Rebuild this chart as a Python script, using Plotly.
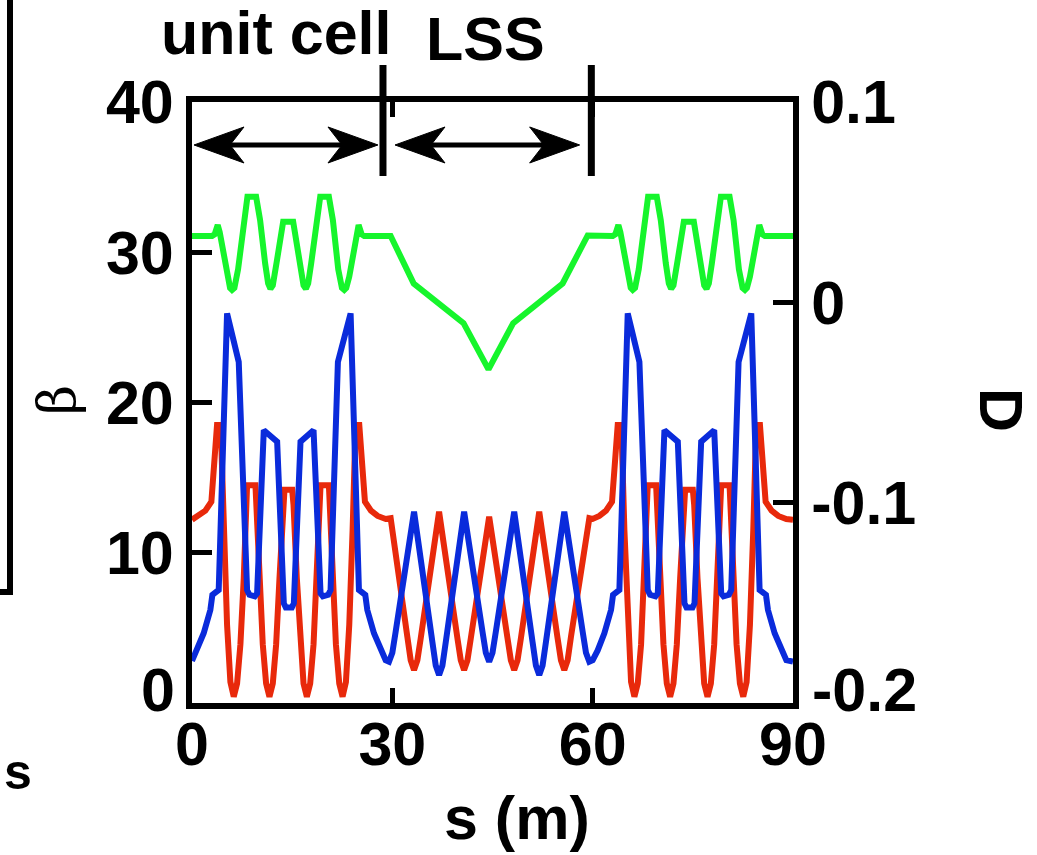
import plotly.graph_objects as go

# ---------------- data ----------------
# horizontal beta function (red)
s_bx = [0.0, 1.0, 2.0, 2.9, 3.75, 4.3, 4.75, 5.25, 5.75, 6.25, 6.75, 7.25, 7.75, 8.25,
        9.5, 10.1, 10.6, 11.1, 11.6, 12.1, 12.6, 13.1, 13.6, 13.85,
        15.0, 15.2, 15.7, 16.2, 16.7, 17.2, 17.7, 18.2, 18.7, 19.25,
        20.5, 21.05, 21.55, 22.05, 22.55, 23.05, 23.55, 24.05, 24.5, 25.05,
        25.9, 26.8, 27.8, 29.0, 29.75,
        32.25, 32.75, 33.25, 33.75, 34.25, 37.0,
        39.75, 40.25, 40.75, 41.25, 41.75, 44.5,
        47.25, 47.75, 48.25, 48.75, 49.25, 52.0,
        54.75, 55.25, 55.75, 56.25, 56.75, 59.5,
        60.0, 61.0, 62.0, 62.9, 63.75, 64.3, 64.75, 65.25, 65.75, 66.25, 66.75, 67.25, 67.75, 68.25,
        69.5, 70.1, 70.6, 71.1, 71.6, 72.1, 72.6, 73.1, 73.6, 73.85,
        75.0, 75.2, 75.7, 76.2, 76.7, 77.2, 77.7, 78.2, 78.7, 79.25,
        80.5, 81.05, 81.55, 82.05, 82.55, 83.05, 83.55, 84.05, 84.5, 85.05,
        85.9, 86.8, 87.8, 89.0, 90.0]
beta_x = [12.2, 12.45, 12.8, 13.4, 18.5, 18.5, 11.5, 5.2, 1.4, 0.42, 1.3, 3.9, 8.3, 14.5,
          14.5, 8.3, 3.9, 1.3, 0.42, 1.3, 3.9, 8.3, 13.2, 14.2,
          14.2, 13.2, 8.3, 3.9, 1.3, 0.42, 1.3, 3.9, 8.3, 14.5,
          14.5, 8.3, 3.9, 1.3, 0.42, 1.4, 5.2, 11.5, 18.5, 18.5,
          13.4, 12.8, 12.45, 12.25, 12.3,
          4.4, 2.85, 2.2, 2.85, 4.3, 12.73,
          4.3, 2.85, 2.2, 2.85, 4.3, 12.4,
          4.3, 2.85, 2.2, 2.85, 4.3, 12.73,
          4.3, 2.85, 2.2, 2.85, 4.4, 12.3,
          12.25, 12.45, 12.8, 13.4, 18.5, 18.5, 11.5, 5.2, 1.4, 0.42, 1.3, 3.9, 8.3, 14.5,
          14.5, 8.3, 3.9, 1.3, 0.42, 1.3, 3.9, 8.3, 13.2, 14.2,
          14.2, 13.2, 8.3, 3.9, 1.3, 0.42, 1.3, 3.9, 8.3, 14.5,
          14.5, 8.3, 3.9, 1.3, 0.42, 1.4, 5.2, 11.5, 18.5, 18.5,
          13.4, 12.8, 12.45, 12.25, 12.2]

# vertical beta function (blue)
s_by = [0.0, 0.75, 1.75, 2.75, 3.05, 4.0, 5.25, 7.0, 8.25, 8.6, 9.4, 9.75, 10.75, 12.75,
        13.75, 14.05, 14.95, 15.25, 16.25, 18.2, 19.25, 19.6, 20.4, 20.75, 21.85, 23.75,
        25.0, 25.95, 26.25, 27.25, 28.25, 29.0, 29.5,
        30.0, 30.5, 33.25, 36.0, 36.5, 37.0, 37.5, 38.0, 40.75,
        43.5, 44.0, 44.5, 45.0, 45.5, 48.25,
        51.0, 51.5, 52.0, 52.5, 53.0, 55.75,
        58.5, 59.0, 59.5,
        60.0, 60.75, 61.75, 62.75, 63.05, 64.0, 65.25, 67.0, 68.25, 68.6, 69.4, 69.75, 70.75, 72.75,
        73.75, 74.05, 74.95, 75.25, 76.25, 78.2, 79.25, 79.6, 80.4, 80.75, 81.85, 83.75,
        85.0, 85.95, 86.25, 87.25, 88.25, 89.0, 90.0]
beta_y = [2.8, 3.5, 4.64, 6.19, 7.2, 7.52, 25.93, 22.7, 7.52, 7.2, 7.1, 7.3, 18.16, 17.39,
          6.63, 6.35, 6.35, 6.63, 17.39, 18.16, 7.3, 7.1, 7.2, 7.52, 22.7, 25.93,
          7.52, 7.2, 6.19, 4.64, 3.5, 2.85, 2.75,
          3.35, 4.75, 12.73, 4.05, 2.5, 1.86, 2.5, 4.05, 12.73,
          4.75, 3.35, 2.75, 3.35, 4.75, 12.73,
          4.05, 2.5, 1.86, 2.5, 4.05, 12.73,
          4.75, 3.35, 2.75,
          2.85, 3.5, 4.64, 6.19, 7.2, 7.52, 25.93, 22.7, 7.52, 7.2, 7.1, 7.3, 18.16, 17.39,
          6.63, 6.35, 6.35, 6.63, 17.39, 18.16, 7.3, 7.1, 7.2, 7.52, 22.7, 25.93,
          7.52, 7.2, 6.19, 4.64, 3.5, 2.85, 2.75]

# dispersion (green, right axis)
s_d = [0.0, 3.0, 3.4, 3.85, 4.15, 4.6, 5.25, 5.7, 6.0, 6.35, 6.9, 7.75, 8.3,
       9.6, 10.2, 10.95, 11.4, 11.75, 12.1, 12.7, 13.65,
       15.15, 16.1, 16.7, 17.05, 17.4, 17.85, 18.6, 19.2,
       20.5, 21.1, 21.9, 22.45, 22.8, 23.1, 23.55, 24.2, 24.65, 24.95, 25.4, 25.8, 29.75,
       33.2, 40.66, 44.4, 48.1, 55.5, 59.25,
       63.0, 63.4, 63.85, 64.15, 64.6, 65.25, 65.7, 66.0, 66.35, 66.9, 67.75, 68.3,
       69.6, 70.2, 70.95, 71.4, 71.75, 72.1, 72.7, 73.65,
       75.15, 76.1, 76.7, 77.05, 77.4, 77.85, 78.6, 79.2,
       80.5, 81.1, 81.9, 82.45, 82.8, 83.1, 83.55, 84.2, 84.65, 84.95, 85.4, 85.8, 90.0]
disp = [0.0331, 0.0331, 0.034, 0.0386, 0.035, 0.0265, 0.0128, 0.0072, 0.0062, 0.0072, 0.0165, 0.041, 0.0527,
        0.0527, 0.041, 0.0195, 0.0095, 0.0068, 0.0085, 0.0205, 0.0402,
        0.0402, 0.0205, 0.0085, 0.0068, 0.0095, 0.0195, 0.041, 0.0527,
        0.0527, 0.041, 0.0165, 0.0072, 0.0062, 0.0072, 0.0128, 0.0265, 0.035, 0.0386, 0.034, 0.0331, 0.0331,
        0.0094, -0.0104, -0.0335, -0.0104, 0.0094, 0.0334,
        0.0331, 0.034, 0.0386, 0.035, 0.0265, 0.0128, 0.0072, 0.0062, 0.0072, 0.0165, 0.041, 0.0527,
        0.0527, 0.041, 0.0195, 0.0095, 0.0068, 0.0085, 0.0205, 0.0402,
        0.0402, 0.0205, 0.0085, 0.0068, 0.0095, 0.0195, 0.041, 0.0527,
        0.0527, 0.041, 0.0165, 0.0072, 0.0062, 0.0072, 0.0128, 0.0265, 0.035, 0.0386, 0.034, 0.0331, 0.0331]

x_ticks = [0, 30, 60, 90]
beta_ticks = [0, 10, 20, 30, 40]
beta_ticktext = ["", "10", "20", "30", "40"]
d_ticks = [-0.2, -0.1, 0, 0.1]
d_ticktext = ["", "-0.1", "0", "0.1"]

# section markers and arrows (s positions)
marker_s = [28.6, 59.8]
arrows_s = [(0.3, 27.85), (30.4, 58.05)]
arrow_beta = 37.14

# ---------------- figure ----------------
W, H = 1037, 855
ML, MR, MT, MB = 192, 244, 102, 152
PW, PH = W - ML - MR, H - MT - MB

def px_x(px):
    return (px - ML) / PW

def px_y(py):
    return (H - MB - py) / PH

FONT = "Liberation Sans, Arial, sans-serif"
FS = 61
GREEN = "#16F52C"
RED = "#E8290B"
BLUE = "#0A2BDB"
LW = 6

fig = go.Figure()
fig.add_trace(go.Scatter(x=s_d, y=disp, mode="lines", yaxis="y2",
                         line=dict(color=GREEN, width=LW), showlegend=False))
fig.add_trace(go.Scatter(x=s_bx, y=beta_x, mode="lines",
                         line=dict(color=RED, width=LW), showlegend=False))
fig.add_trace(go.Scatter(x=s_by, y=beta_y, mode="lines",
                         line=dict(color=BLUE, width=LW), showlegend=False))

tickfont = dict(family=FONT, size=FS, color="black", weight="bold")

fig.update_layout(
    width=W, height=H,
    margin=dict(l=ML, r=MR, t=MT, b=MB, pad=0),
    paper_bgcolor="white", plot_bgcolor="white",
    xaxis=dict(range=[0, 90], tickvals=x_ticks, ticks="inside", ticklen=15, tickwidth=5,
               tickcolor="black", showline=True, linewidth=6, linecolor="black",
               mirror="ticks", showgrid=False, zeroline=False, tickfont=tickfont,
               ticklabelstandoff=-17),
    yaxis=dict(range=[0, 40], tickvals=beta_ticks, ticktext=beta_ticktext, ticks="inside",
               ticklen=20, tickwidth=5,
               tickcolor="black", showline=True, linewidth=6, linecolor="black",
               showgrid=False, zeroline=False, tickfont=tickfont),
    yaxis2=dict(range=[-0.2, 0.1], tickvals=d_ticks, ticktext=d_ticktext, overlaying="y",
                side="right", ticks="inside", ticklen=20, tickwidth=5, tickcolor="black",
                showline=True, linewidth=6, linecolor="black", showgrid=False,
                zeroline=False, tickfont=tickfont),
)

shapes = []
# section marker lines above the frame
for ms in marker_s:
    shapes.append(dict(type="line", xref="x", yref="paper", x0=ms, x1=ms,
                       y0=px_y(176), y1=px_y(65), line=dict(color="black", width=7)))

# double-headed arrows
L_s = 50 / PW * 90       # head length in s units
N_s = 36 / PW * 90       # notch position
HB = 18 / PH * 40        # head half-height in beta units
for a, b in arrows_s:
    shapes.append(dict(type="line", xref="x", yref="y", x0=a + 2 * N_s / 3, x1=b - 2 * N_s / 3,
                       y0=arrow_beta, y1=arrow_beta, line=dict(color="black", width=5)))
    for tip, d in ((a, 1), (b, -1)):
        path = (f"M {tip},{arrow_beta} L {tip + d * L_s},{arrow_beta + HB} "
                f"L {tip + d * N_s},{arrow_beta} L {tip + d * L_s},{arrow_beta - HB} Z")
        shapes.append(dict(type="path", xref="x", yref="y", path=path,
                           fillcolor="black", line=dict(color="black", width=1)))

# partial frame of the neighbouring panel at far left
shapes.append(dict(type="line", xref="paper", yref="paper", x0=px_x(10), x1=px_x(10),
                   y0=px_y(0), y1=px_y(592), line=dict(color="black", width=6)))
shapes.append(dict(type="line", xref="paper", yref="paper", x0=px_x(0), x1=px_x(13),
                   y0=px_y(592), y1=px_y(592), line=dict(color="black", width=6)))
fig.update_layout(shapes=shapes)

bold = dict(family=FONT, size=FS, color="black", weight="bold")
ann = [
    dict(text="unit cell", x=px_x(276), y=px_y(33), font=bold, height=64),
    dict(text="LSS", x=px_x(485), y=px_y(39), font=bold, height=64),
    dict(text="s (m)", x=px_x(517), y=px_y(818), font=bold),
    dict(text="D", x=px_x(1001), y=px_y(410), font=bold, textangle=90),
    dict(text="s", x=px_x(18), y=px_y(772), font=dict(family=FONT, size=50, color="black", weight="bold")),
    dict(text="β", x=px_x(57), y=px_y(400), textangle=-90,
         font=dict(family="DejaVu Serif, serif", size=52, color="black")),
    dict(text="0", x=px_x(177), y=px_y(690), font=bold, xanchor="right"),
    dict(text="-0.2", x=px_x(810), y=px_y(690), font=bold, xanchor="left"),
]
for a in ann:
    a.setdefault("xanchor", "center")
    a.update(xref="paper", yref="paper", showarrow=False, yanchor="middle")
fig.update_layout(annotations=ann)

fig.write_html("out.html")
